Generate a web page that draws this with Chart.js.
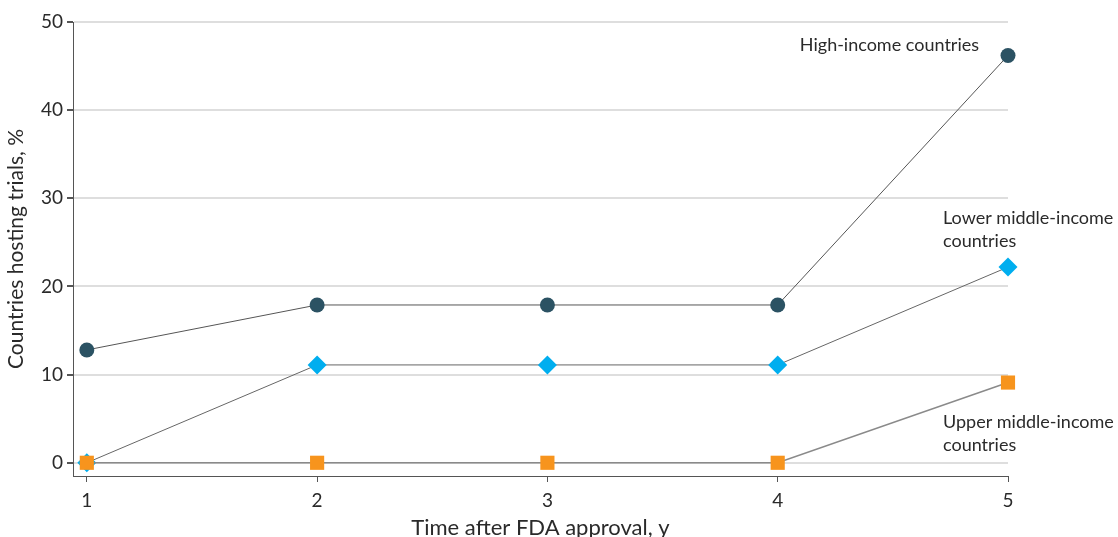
<!DOCTYPE html>
<html>
<head>
<meta charset="utf-8">
<script src="https://cdn.jsdelivr.net/npm/chart.js@4.4.0/dist/chart.umd.min.js"></script>
<style>
  html, body { margin: 0; padding: 0; background: #fff; }
  #wrap { width: 1118px; height: 537px; }
</style>
</head>
<body>
<div id="wrap"><canvas id="myChart" width="1118" height="537"></canvas></div>
<script>
// years after approval
var years = [1, 2, 3, 4, 5];
// % of countries hosting trials
var highIncome = [12.8, 17.9, 17.9, 17.9, 46.2];
var lowerMiddle = [0, 11.1, 11.1, 11.1, 22.2];
var upperMiddle = [0, 0, 0, 0, 9.1];
var yTicks = [0, 10, 20, 30, 40, 50];
var seriesNames = [["High-income countries"], ["Lower middle-income", "countries"], ["Upper middle-income", "countries"]];

var FONT = "Lato, 'Open Sans', sans-serif";
var TEXT = "#2a2a2a";

function pts(ys) {
	var out = [];
	for (var i = 0; i < years.length; i++) out.push({ x: years[i], y: ys[i] });
	return out;
}

// labels next to the lines
var seriesLabels = {
	id: 'seriesLabels',
	afterDatasetsDraw: function(chart) {
		var ctx = chart.ctx;
		var xs = chart.scales.x, ys = chart.scales.y;
		ctx.save();
		ctx.font = "18px " + FONT;
		ctx.fillStyle = TEXT;
		ctx.textBaseline = 'middle';
		// high income: left of the last point
		ctx.textAlign = 'right';
		ctx.fillText(seriesNames[0][0], xs.getPixelForValue(5) - 29, ys.getPixelForValue(46.2) - 10);
		ctx.textAlign = 'left';
		var lx = xs.getPixelForValue(5) - 65;
		var y1 = ys.getPixelForValue(22.2);
		ctx.fillText(seriesNames[1][0], lx, y1 - 49);
		ctx.fillText(seriesNames[1][1], lx, y1 - 26);
		var y2 = ys.getPixelForValue(9.1);
		ctx.fillText(seriesNames[2][0], lx, y2 + 40);
		ctx.fillText(seriesNames[2][1], lx, y2 + 63);
		ctx.restore();
	}
};

var ctx = document.getElementById('myChart').getContext('2d');
var chart = new Chart(ctx, {
	type: 'line',
	data: {
		datasets: [{
			label: seriesNames[2].join(' '),
			data: pts(upperMiddle),
			borderColor: '#8a8a8a',
			borderWidth: 1.5,
			pointStyle: 'rect',
			pointRadius: 10,
			pointBackgroundColor: '#f7941d',
			pointBorderWidth: 0,
			clip: false
		}, {
			label: seriesNames[1].join(' '),
			data: pts(lowerMiddle),
			borderColor: '#666',
			borderWidth: 1,
			pointStyle: 'rectRot',
			pointRadius: 9.5,
			pointBackgroundColor: '#00aeef',
			pointBorderWidth: 0,
			clip: false
		}, {
			label: seriesNames[0][0],
			data: pts(highIncome),
			borderColor: '#555',
			borderWidth: 1,
			pointStyle: 'circle',
			pointRadius: 7.5,
			pointBackgroundColor: '#2b5263',
			pointBorderWidth: 0,
			clip: false
		}]
	},
	options: {
		responsive: false,
		animation: false,
		layout: { padding: { top: 22, right: 110, left: 0, bottom: 0 } },
		plugins: { legend: { display: false }, tooltip: { enabled: false } },
		scales: {
			x: {
				type: 'linear',
				min: 0.94,
				max: 5,
				afterBuildTicks: function(s) { s.ticks = years.map(function(v) { return { value: v }; }); },
				afterFit: function(s) { s.height = 61; },
				grid: { drawOnChartArea: false, tickLength: 6, tickColor: '#555' },
				border: { color: '#555', width: 1 },
				ticks: { color: TEXT, font: { family: FONT, size: 19 }, padding: 7 },
				title: { display: true, text: 'Time after FDA approval, y', color: TEXT, font: { family: FONT, size: 22 }, padding: { top: 4, bottom: -4 } }
			},
			y: {
				min: -1.5,
				max: 50,
				afterBuildTicks: function(s) { s.ticks = yTicks.map(function(v) { return { value: v }; }); },
				afterFit: function(s) { s.width = 73; },
				grid: { color: '#dedede', lineWidth: 2, tickLength: 6, tickColor: '#555' },
				border: { color: '#555', width: 1 },
				ticks: { color: TEXT, font: { family: FONT, size: 19 }, padding: 4 },
				title: { display: true, text: 'Countries hosting trials, %', color: TEXT, font: { family: FONT, size: 21 }, padding: { bottom: 3 } }
			}
		}
	},
	plugins: [seriesLabels]
});
</script>
</body>
</html>
